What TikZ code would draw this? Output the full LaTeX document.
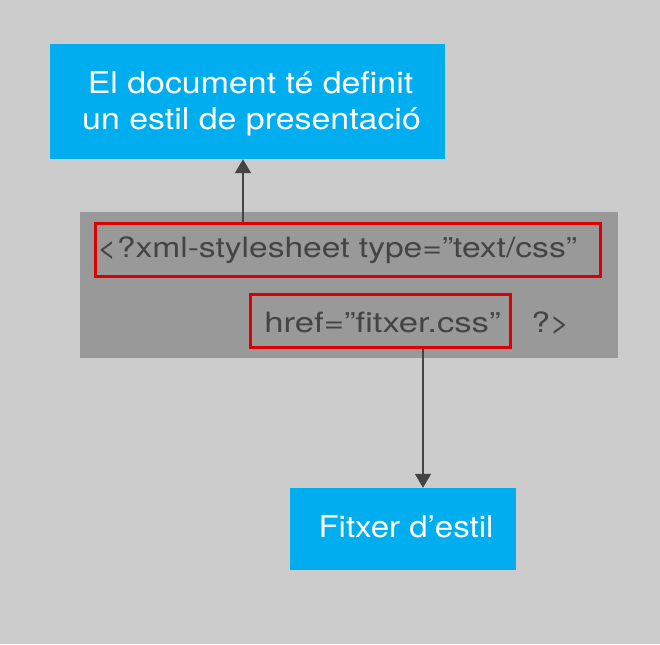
\documentclass[tikz,border=0pt]{standalone}
\usepackage{fontspec}
\setmainfont{TeX Gyre Heros}
\usetikzlibrary{arrows.meta,calc}
\definecolor{bg}{HTML}{CCCCCC}
\definecolor{skyblue}{HTML}{00AEEF}
\definecolor{codebox}{HTML}{999999}
\definecolor{hired}{HTML}{DD0000}
\definecolor{darktxt}{HTML}{444444}
\tikzset{
  bluebox/.style={fill=skyblue, draw=none, inner sep=0pt, text=white},
  graybox/.style={fill=codebox, draw=none, inner sep=0pt},
  redframe/.style={draw=hired, line width=3pt, inner sep=0pt},
  codetxt/.style={anchor=base west, inner sep=0pt, text=darktxt, transform shape, font=\fontsize{28}{32}\selectfont},
  whitetxt/.style={inner sep=0pt, text=white, transform shape, anchor=base},
  arr/.style={draw=darktxt, line width=1.8pt, -{Triangle[width=16pt,length=14pt]}},
}
\begin{document}
\begin{tikzpicture}[x=1pt,y=-1pt]
\useasboundingbox (0,0) rectangle (660,644);
\fill[bg] (0,0) rectangle (660,644);
% boxes
\node[bluebox, minimum width=395pt, minimum height=115pt] (top) at (247.5,101.5) {};
\node[graybox, minimum width=538pt, minimum height=146pt] (code) at (349,285) {};
\node[bluebox, minimum width=226pt, minimum height=82pt] (bot) at (402.5,529) {};
% red frames
\node[redframe, minimum width=505pt, minimum height=53pt] (r1) at (348,250) {};
\node[redframe, minimum width=260pt, minimum height=53pt] (r2) at (380.5,321) {};
% texts
\node[whitetxt, xscale=1.13, font=\fontsize{30}{36}\selectfont] (t1a) at (250.5,94) {El document té definit};
\node[whitetxt, xscale=1.13, font=\fontsize{30}{36}\selectfont] (t1b) at (251.5,130) {un estil de presentació};
\node[codetxt, xscale=1.2] (c1) at (97,257.5) {<?xml-stylesheet type=”text/css”};
\node[codetxt, xscale=1.24] (c2) at (264,332) {href=”fitxer.css”};
\node[codetxt, xscale=1.2] (c3) at (531,332) {?>};
\node[whitetxt, xscale=1.1, font=\fontsize{30}{36}\selectfont] (t2) at (406,537.5) {Fitxer d’estil};
% connectors
\coordinate (ax1) at (243,0);
\coordinate (ax2) at (423,0);
\draw[arr] (r1.north -| ax1) -- (top.south -| ax1);
\draw[arr] (r2.south -| ax2) -- (bot.north -| ax2);
\end{tikzpicture}
\end{document}
